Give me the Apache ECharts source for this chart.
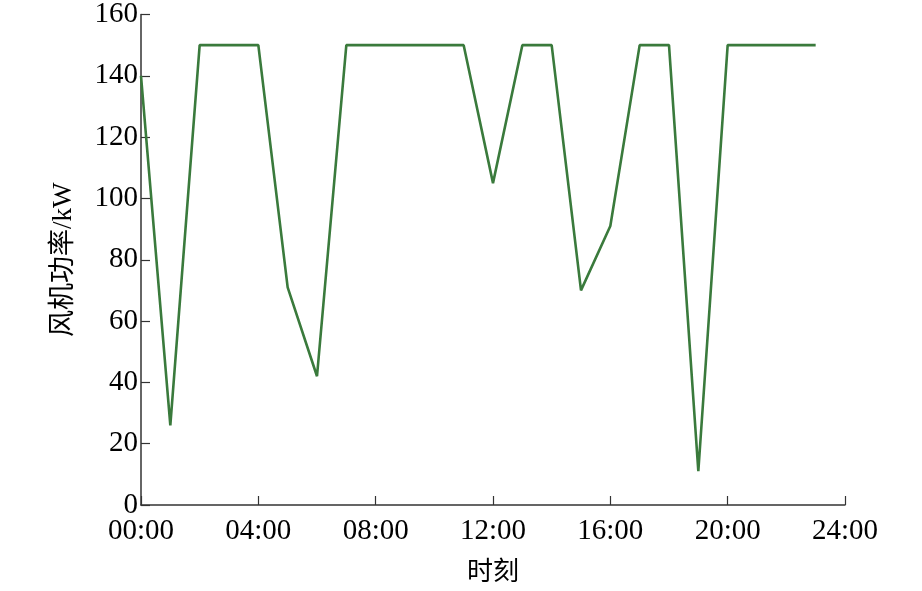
<!DOCTYPE html>
<html><head><meta charset="utf-8">
<script src="https://cdn.jsdelivr.net/npm/echarts@6/dist/echarts.min.js"></script>
<style>html,body{margin:0;padding:0;background:#fff}#c{width:922px;height:591px}</style>
</head><body><div id="c"></div>
<script>
const hours = [0,1,2,3,4,5,6,7,8,9,10,11,12,13,14,15,16,17,18,19,20,21,22,23];
const power = [140,26,150,150,150,71,42,150,150,150,150,150,105,150,150,70,91,150,150,11,150,150,150,150];
const xTicks = [0,4,8,12,16,20,24];
const yTicks = [0,20,40,60,80,100,120,140,160];
const xName = '时刻';
const yName = '风机功率/kW';

const serif = '"Liberation Serif","Times New Roman",serif';
const chart = echarts.init(document.getElementById('c'));
chart.setOption({
  animation:false,
  grid:{left:141,right:77,top:14,bottom:86,containLabel:false},
  xAxis:{type:'value',min:xTicks[0],max:xTicks[xTicks.length-1],interval:4,
    name:xName,nameLocation:'middle',nameGap:52,
    nameTextStyle:{fontFamily:'"Noto Sans CJK SC",sans-serif',fontSize:26,color:'#000'},
    axisLine:{lineStyle:{color:'#333',width:1.5}},
    axisTick:{inside:true,length:9,lineStyle:{color:'#333',width:1.2}},
    axisLabel:{fontFamily:serif,fontSize:29,color:'#000',margin:12,
      formatter:v=>(v<10?'0':'')+v+':00'},
    splitLine:{show:false}},
  yAxis:{type:'value',min:yTicks[0],max:yTicks[yTicks.length-1],interval:20,
    name:yName,nameLocation:'middle',nameGap:64,
    nameTextStyle:{fontFamily:'"Liberation Serif","Noto Sans CJK SC",serif',fontSize:27,color:'#000'},
    axisLine:{show:true,lineStyle:{color:'#333',width:1.5}},
    axisTick:{show:true,inside:true,length:9,lineStyle:{color:'#333',width:1.2}},
    axisLabel:{fontFamily:serif,fontSize:29,color:'#000',margin:3},
    splitLine:{show:false}},
  series:[{type:'line',data:hours.map((h,i)=>[h,power[i]]),
    showSymbol:false,symbol:'none',
    lineStyle:{color:'#3a7a3c',width:2.6}}]
});
</script></body></html>
